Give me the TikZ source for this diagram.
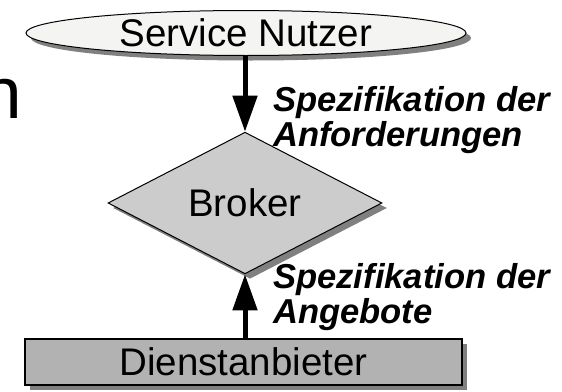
\documentclass[tikz,border=0pt]{standalone}
\usepackage{fontspec}
\setmainfont{Liberation Sans}
\usetikzlibrary{shapes.geometric,shadows,arrows.meta}
\definecolor{shadowgray}{HTML}{808080}
\definecolor{userfill}{HTML}{F4F4F2}
\definecolor{brokerfill}{HTML}{CCCCCC}
\definecolor{providerfill}{HTML}{B2B2B2}
\begin{document}
\begin{tikzpicture}[x=1pt,y=-1pt,
  shapebase/.style={draw=black, line width=1pt, inner sep=0pt,
    font=\fontsize{38.5}{40}\selectfont,
    drop shadow={shadow xshift=5pt, shadow yshift=-5pt, fill=shadowgray, opacity=1}},
  userbox/.style={shapebase, ellipse, fill=userfill, minimum width=440pt, minimum height=45pt},
  brokerbox/.style={shapebase, diamond, fill=brokerfill, minimum width=274pt, minimum height=118pt},
  providerbox/.style={shapebase, rectangle, fill=providerfill, line width=1.2pt, minimum width=437pt, minimum height=46pt},
  flow/.style={line width=5pt, -{Triangle[width=24pt,length=36pt]}},
  flowlabel/.style={anchor=north west, inner sep=0pt, align=left,
    font=\fontsize{34.6}{35.5}\selectfont\bfseries\itshape}
]
\useasboundingbox (0,0) rectangle (562,391);
\node[anchor=base west, inner sep=0pt, font=\fontsize{73}{73}\selectfont] (frag) at (-19,118) {n};
\node[userbox] (user) at (246,33) {Service Nutzer};
\node[brokerbox] (broker) at (245,203) {Broker};
\node[providerbox] (provider) at (243.5,362) {Dienstanbieter};
\draw[flow] (user.south -| broker.north) -- (broker.north);
\draw[flow] (provider.north -| broker.south) -- (broker.south);
\node[flowlabel] (req) at (273,86) {Spezifikation der\\Anforderungen};
\node[flowlabel] (off) at (273,263) {Spezifikation der\\Angebote};
\end{tikzpicture}
\end{document}
